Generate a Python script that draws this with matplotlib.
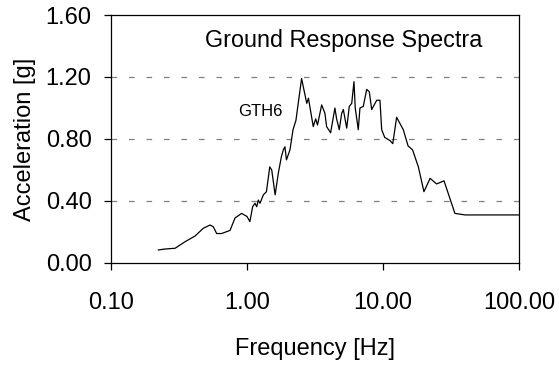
import matplotlib
matplotlib.use("Agg")
import matplotlib.pyplot as plt
from matplotlib.ticker import FixedLocator, NullLocator, FuncFormatter

plt.rcParams['font.family'] = ['Liberation Sans', 'DejaVu Sans']

# response spectrum GTH6
freq = [0.223, 0.249, 0.296, 0.35, 0.415, 0.477, 0.535, 0.565, 0.598, 0.65,
        0.75, 0.816, 0.913, 1.0, 1.05, 1.10, 1.145, 1.18, 1.21, 1.246,
        1.32, 1.39, 1.47, 1.52, 1.61, 1.70, 1.79, 1.85, 1.90, 1.95,
        2.07, 2.18, 2.29, 2.38, 2.52, 2.67, 2.75, 2.83, 3.07, 3.2,
        3.3, 3.54, 3.74, 3.85, 4.12, 4.43, 4.56, 4.77, 4.97, 5.11,
        5.41, 5.65, 5.89, 6.12, 6.25, 6.58, 6.77, 7.16, 7.59, 7.93,
        8.26, 8.99, 9.5, 9.78, 10.3, 11.25, 11.8, 12.6, 14.1, 15.3,
        16.5, 18.2, 20.0, 22.2, 24.8, 28.1, 33.8, 40.1, 100.0]
accel = [0.084, 0.09, 0.095, 0.137, 0.174, 0.224, 0.245, 0.234, 0.19, 0.19,
         0.21, 0.29, 0.32, 0.30, 0.267, 0.363, 0.385, 0.363, 0.406, 0.385,
         0.44, 0.46, 0.62, 0.60, 0.44, 0.58, 0.686, 0.73, 0.75, 0.665,
         0.73, 0.86, 0.92, 1.03, 1.19, 1.084, 1.03, 1.063, 0.88, 0.93,
         0.89, 1.02, 0.966, 0.88, 0.84, 1.0, 0.93, 0.86, 0.966, 0.99,
         0.87, 1.01, 1.03, 1.17, 1.0, 0.86, 1.0, 1.01, 1.12, 1.105,
         0.99, 1.05, 1.05, 0.86, 0.81, 0.79, 0.77, 0.94, 0.86, 0.755,
         0.73, 0.62, 0.46, 0.546, 0.51, 0.53, 0.32, 0.31, 0.31]

xticks = [0.1, 1, 10, 100]
yticks = [0.0, 0.4, 0.8, 1.2, 1.6]
grid_y = [0.4, 0.8, 1.2]

fig = plt.figure(figsize=(5.59, 3.65), dpi=100)
ax = fig.add_axes([0.1986, 0.2795, 0.7298, 0.6794])

for g in grid_y:
    ax.axhline(g, color='#808080', lw=0.9, dashes=(4.5, 9.5), zorder=1)

ax.plot(freq, accel, color='black', lw=0.9, zorder=3)

ax.set_xscale('log')
ax.set_xlim(0.1, 100)
ax.set_ylim(0, 1.6)
ax.xaxis.set_major_locator(FixedLocator(xticks))
ax.xaxis.set_minor_locator(NullLocator())
ax.xaxis.set_major_formatter(FuncFormatter(lambda v, p: f"{v:.2f}"))
ax.set_yticks(yticks)
ax.yaxis.set_major_formatter(FuncFormatter(lambda v, p: f"{v:.2f}"))

ax.tick_params(axis='both', direction='out', length=5, width=0.9,
               labelsize=17, colors='black')
ax.tick_params(axis='x', pad=16)
ax.tick_params(axis='y', pad=9)
for s in ax.spines.values():
    s.set_linewidth(0.9)

ax.set_xlabel("Frequency [Hz]", fontsize=17, labelpad=17)
ax.set_ylabel("Acceleration [g]", fontsize=17, labelpad=7)

ax.text(0.571, 0.899, "Ground Response Spectra", transform=ax.transAxes,
        ha='center', va='center', fontsize=16.8)
ax.text(0.365, 0.609, "GTH6", transform=ax.transAxes,
        ha='center', va='center', fontsize=12)

fig.savefig("out.png", dpi=100)
